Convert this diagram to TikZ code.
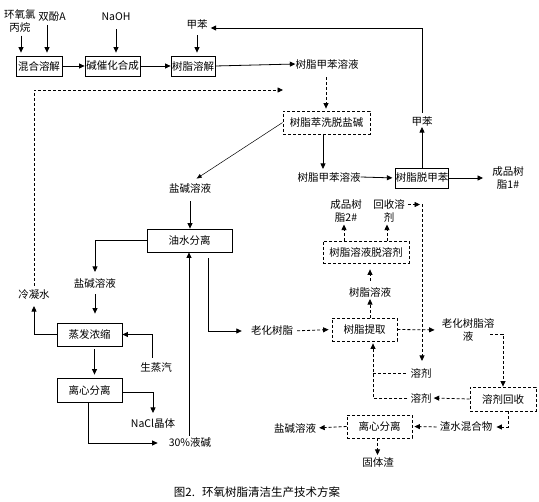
\documentclass[tikz,border=0pt]{standalone}
\usepackage{fontspec}
\setmainfont{Noto Sans CJK SC}
\usetikzlibrary{arrows.meta}
\begin{document}
\begin{tikzpicture}[x=1pt,y=-1pt,
  every node/.style={font=\fontsize{10.5}{13}\selectfont, inner sep=0pt},
  box/.style={draw, line width=0.8pt},
  dbox/.style={draw, line width=0.8pt, dash pattern=on 3pt off 2pt},
  arr/.style={line width=0.8pt, -{Triangle[length=5.5pt,width=5pt]}},
  darr/.style={arr, dash pattern=on 3pt off 2pt},
  ln/.style={line width=0.8pt},
  dln/.style={ln, dash pattern=on 3pt off 2pt},
]
\fill[white] (0,0) rectangle (539,502);
\useasboundingbox (0,0) rectangle (539,502);

% ---- top row
\node (tecp) [align=center] at (20,21) {环氧氯\\丙烷};
\node (tbpa) at (52,17) {双酚A};
\node (tnaoh) at (116,17) {NaOH};
\node (ttol1) at (197,25) {甲苯};
\node (bmix) [box, minimum width=46pt, minimum height=20pt] at (39,66) {混合溶解};
\node (bcat) [box, minimum width=55pt, minimum height=20pt] at (112.5,66) {碱催化合成};
\node (bdis) [box, minimum width=44pt, minimum height=20pt] at (193,66) {树脂溶解};
\node (trts1) at (327,64) {树脂甲苯溶液};

% ---- washing
\node (bwash) [dbox, minimum width=87pt, minimum height=23pt] at (326.5,122.5) {树脂萃洗脱盐碱};
\coordinate (cw) at (283,90);
\node (tbrine1) at (190,188) {盐碱溶液};
\node (trts2) at (329,177) {树脂甲苯溶液};
\node (bdetol) [box, minimum width=52pt, minimum height=20pt] at (422,178) {树脂脱甲苯};
\node (ttol2) at (422,122) {甲苯};
\node (tprod1) [align=center] at (508,178) {成品树\\脂1\#};

% ---- left column
\node (boil) [box, minimum width=85pt, minimum height=23pt] at (189.5,240.5) {油水分离};
\node (tbrine2) at (95,283) {盐碱溶液};
\node (tcond) at (34,295) {冷凝水};
\node (bevap) [box, minimum width=65pt, minimum height=23pt] at (89.5,334.5) {蒸发浓缩};
\node (tsteam) at (156,368) {生蒸汽};
\node (bcent1) [box, minimum width=65pt, minimum height=24pt] at (89.5,390) {离心分离};
\node (tnacl) at (153,424) {NaCl晶体};
\node (tnaoh30) at (190,443) {30\%液碱};
\node (taged) at (272,331) {老化树脂};

% ---- right lower part
\node (bext) [dbox, minimum width=65pt, minimum height=23pt] at (364.5,329.5) {树脂提取};
\node (trs) at (370,292) {树脂溶液};
\node (bdesolv) [dbox, minimum width=86pt, minimum height=22pt] at (366,252) {树脂溶液脱溶剂};
\node (tprod2) [align=center] at (346,211) {成品树\\脂2\#};
\node (trecov) [align=center] at (389,211) {回收溶\\剂};
\coordinate (cr) at (422,204.5);
\node (tagedsol) [align=center] at (468,330) {老化树脂溶\\液};
\node (bsolrec) [dbox, minimum width=66pt, minimum height=24pt] at (503,399) {溶剂回收};
\node (tsolv1) at (421,373) {溶剂};
\node (tsolv2) at (421,398) {溶剂};
\node (tslurry) at (466,427) {渣水混合物};
\node (bcent2) [dbox, minimum width=65pt, minimum height=23pt] at (379.5,426.5) {离心分离};
\node (tbrine3) at (295,428) {盐碱溶液};
\node (tsolid) at (378,463) {固体渣};
\node (cap) [font=\fontsize{11.5}{14}\selectfont] at (257,492) {图2.\hspace{7pt}环氧树脂清洁生产技术方案};

% ---- connectors: top row
\draw[arr, shorten <=3pt, shorten >=3pt] ([xshift=1pt]tecp.south) -- ([xshift=1pt]tecp.south |- bmix.north);
\draw[arr, shorten <=3pt, shorten >=3pt] ([xshift=-5pt]tbpa.south) -- ([xshift=-5pt]tbpa.south |- bmix.north);
\draw[arr] (bmix.east) -- (bcat.west);
\draw[arr, shorten <=8pt, shorten >=3pt] (tnaoh.south) -- (tnaoh.south |- bcat.north);
\draw[arr] (bcat.east) -- (bdis.west);
\draw[arr, shorten <=5pt, shorten >=3pt] (ttol1.south) -- (ttol1.south |- bdis.north);
\draw[arr] (bdis.east) -- (trts1.west);
\draw[darr, shorten <=8pt, shorten >=2pt] ([xshift=-1pt]trts1.south) -- ([xshift=-1pt]trts1.south |- bwash.north);

% toluene recycle
\draw[arr] (bdetol.north) -- (ttol2.south);
\draw[arr, shorten <=4pt, shorten >=3pt] (ttol2.north) |- ([yshift=-3pt]ttol1.east);

% washing outputs
\draw[arr, shorten >=3pt] ([xshift=-3.5pt]bwash.south) -- ([xshift=-3.5pt]bwash.south |- trts2.north);
\draw[-{Triangle[length=5pt,width=4pt]}, line width=0.5pt, shorten >=8pt] (bwash.west) -- (tbrine1.north);
\draw[arr, shorten >=3pt] (trts2.east) -- (bdetol.west);
\draw[arr, shorten >=9pt] (bdetol.east) -- (tprod1.west);

% condensate recycle (dashed)
\draw[darr, shorten <=4pt] (tcond.north) |- (cw);

% left column
\draw[arr, shorten <=8pt] (tbrine1.south) -- (tbrine1.south |- boil.north);
\draw[arr, shorten >=6pt] (boil.west) -| (tbrine2.north);
\draw[arr, shorten <=6pt, shorten >=9pt] (tbrine2.south) -- (tbrine2.south |- bevap.north);
\draw[arr, shorten >=6pt] (bevap.west) -| (tcond.south);
\draw[arr, shorten <=3pt, shorten >=3pt] ([xshift=5pt]bevap.south) -- ([xshift=5pt]bevap.south |- bcent1.north);
\draw[arr, shorten <=5pt] ([xshift=-4pt]tsteam.north) |- (bevap.east);
\draw[arr, shorten >=6pt] ([yshift=-2pt]bcent1.east) -| (tnacl.north);
\draw[arr, shorten >=11pt] ([xshift=-1.5pt]bcent1.south) |- (tnaoh30.west);
\draw[arr, shorten <=2pt] ([xshift=-1pt]tnaoh30.north) -- ([xshift=-1pt]tnaoh30.north |- boil.south);
\draw[arr, shorten >=9pt] ([xshift=18.5pt, yshift=-6pt]boil.south) |- (taged.west);

% extraction
\draw[darr, shorten <=4pt, shorten >=3pt] (taged.east) -- (bext.west);
\draw[darr, shorten >=2pt] (trs.south |- bext.north) -- (trs.south);
\draw[darr, shorten <=6pt, shorten >=6pt] (trs.north) -- (trs.north |- bdesolv.south);
\draw[darr, shorten >=2pt] ([xshift=-22pt]bdesolv.north) -- ([xshift=-22pt]bdesolv.north |- tprod2.south);
\draw[darr, shorten >=2pt] ([xshift=21pt]bdesolv.north) -- ([xshift=21pt]bdesolv.north |- trecov.south);
\draw[darr, shorten <=3pt, shorten >=2pt] ([yshift=6.5pt]trecov.east) -- (cr);
\draw[darr, shorten >=7pt] (cr) -- (cr |- tsolv1.north);
\draw[darr, shorten >=7pt] (bext.east) -- (tagedsol.west);
\draw[darr, shorten <=-4pt] ([yshift=-4pt]tagedsol.east) -| (bsolrec.north);
\draw[darr, shorten >=2pt] (bsolrec.west) -- (tsolv2.east);
\draw[darr, shorten <=3pt, shorten >=2pt] (tsolv2.west) -| ([xshift=8.5pt]bext.south);
\draw[dln, shorten >=3pt] ([xshift=8.5pt]bext.south |- tsolv1.west) -- (tsolv1.west);
\draw[darr, shorten >=4pt] ([xshift=5pt]bsolrec.south) |- (tslurry.east);
\draw[darr, shorten <=3pt, shorten >=2pt] (tslurry.west) -- (bcent2.east);
\draw[darr, shorten >=3pt] (bcent2.west) -- (tbrine3.east);
\draw[darr, shorten >=3pt] ([xshift=-2pt]bcent2.south) -- ([xshift=-2pt]bcent2.south |- tsolid.north);
\end{tikzpicture}
\end{document}
